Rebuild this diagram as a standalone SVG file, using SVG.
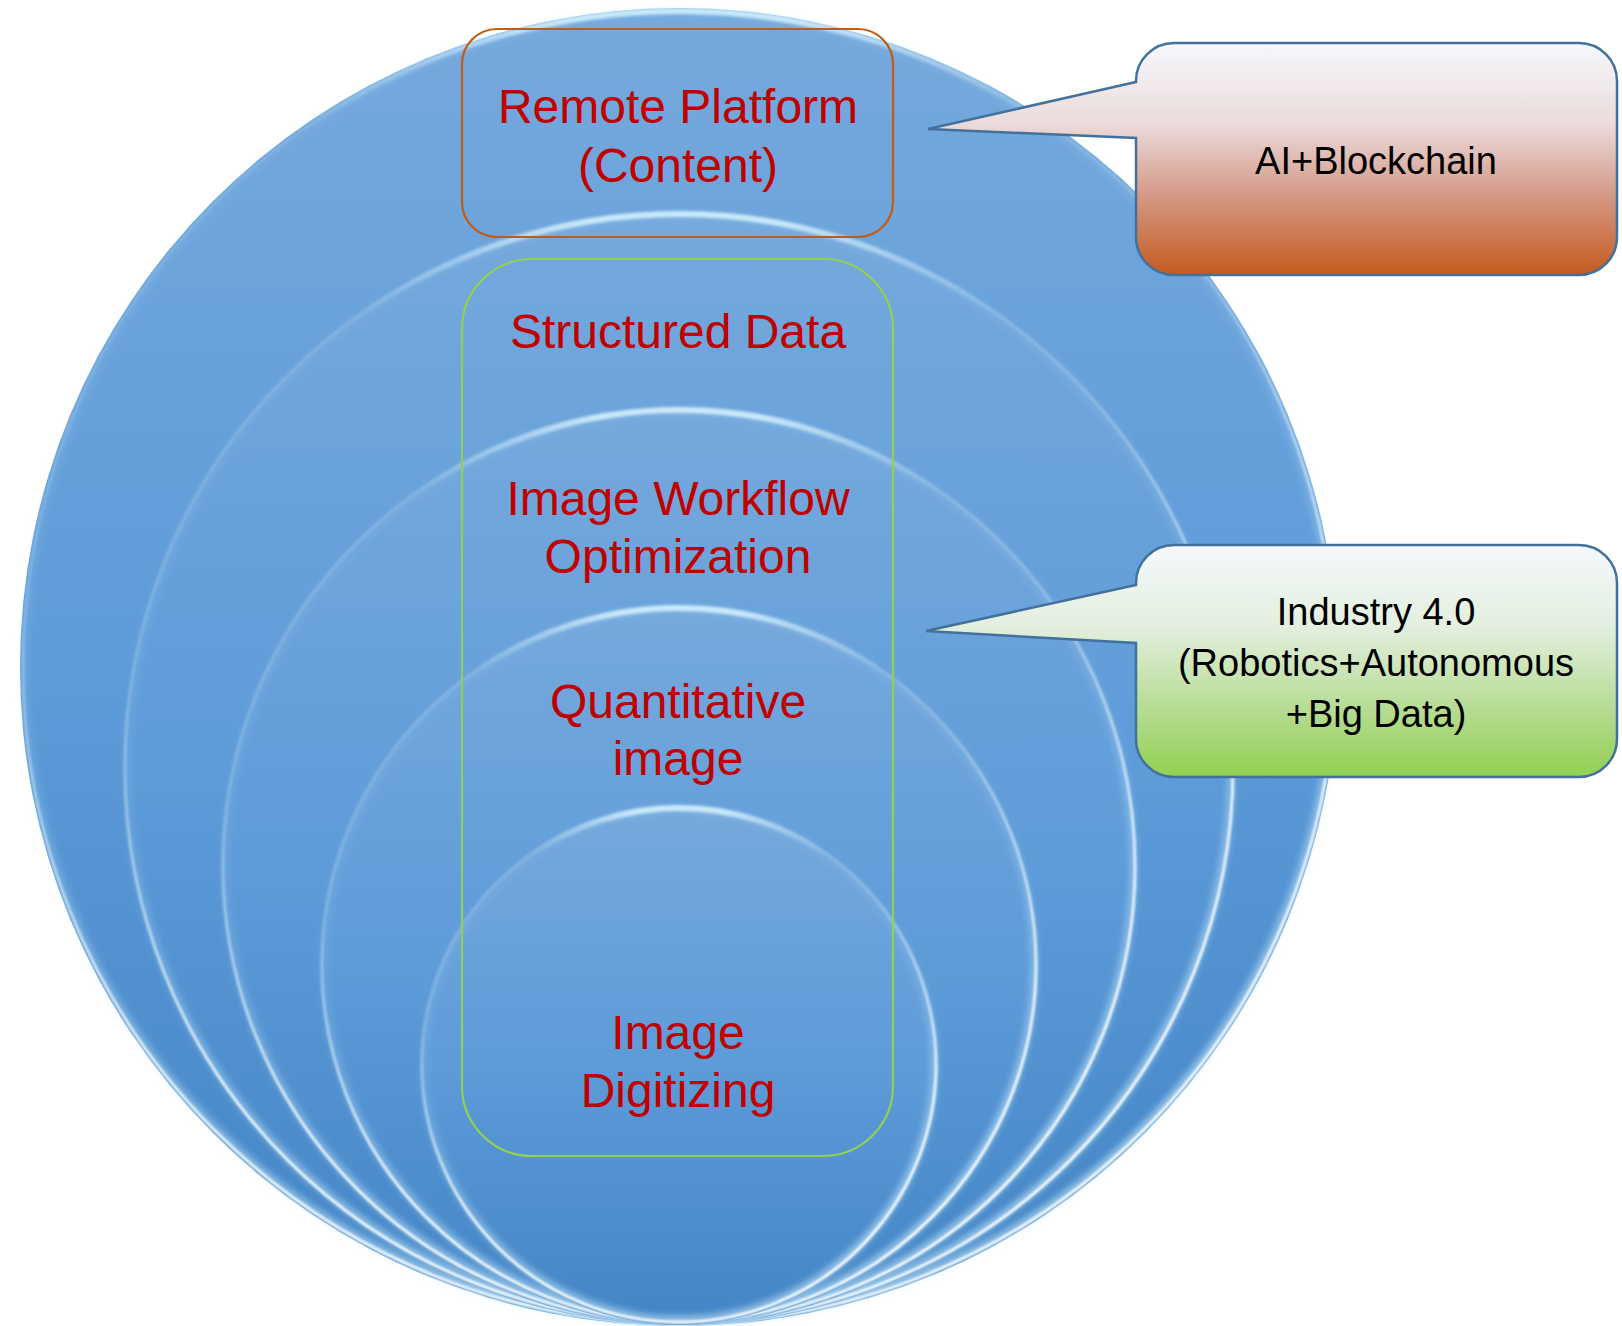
<svg xmlns="http://www.w3.org/2000/svg" width="1622" height="1326" viewBox="0 0 1622 1326">
  <style>
    .lbl { font-family: "Liberation Sans", Arial, sans-serif; font-size: 48px; fill: #c00000; text-anchor: middle; }
    .cl { font-family: "Liberation Sans", Arial, sans-serif; font-size: 38px; fill: #000000; text-anchor: middle; }
    .disc { fill: url(#discFill); }
    .glow { fill: none; stroke: url(#glowGrad); stroke-width: 8; filter: url(#soft); }
    .rim { fill: none; stroke: url(#rimGrad); stroke-width: 2.8; filter: url(#thin); }
    .top { fill: none; stroke: url(#topGrad); stroke-width: 6; filter: url(#mid); }
    .frameO { fill: none; stroke: #c55a11; stroke-width: 2.2; }
    .frameG { fill: none; stroke: #92d050; stroke-width: 2.2; }
    .callout { stroke: #41719c; stroke-width: 2.5; }
  </style>
  <defs>
    <linearGradient id="discFill" x1="0" y1="0" x2="0" y2="1">
      <stop offset="0" stop-color="#76a9dd"/>
      <stop offset="0.5" stop-color="#5d9bd9"/>
      <stop offset="1" stop-color="#4385c5"/>
    </linearGradient>
    <linearGradient id="rimGrad" x1="0" y1="0" x2="0.3" y2="1">
      <stop offset="0" stop-color="#e6f8ff" stop-opacity="0.08"/>
      <stop offset="0.4" stop-color="#e6f8ff" stop-opacity="0.2"/>
      <stop offset="0.6" stop-color="#eefbff" stop-opacity="0.6"/>
      <stop offset="0.75" stop-color="#f6fdff" stop-opacity="0.9"/>
      <stop offset="1" stop-color="#ffffff" stop-opacity="1"/>
    </linearGradient>
    <linearGradient id="glowGrad" x1="0" y1="0" x2="0.3" y2="1">
      <stop offset="0" stop-color="#c8ecff" stop-opacity="0.03"/>
      <stop offset="0.5" stop-color="#c8ecff" stop-opacity="0.12"/>
      <stop offset="1" stop-color="#c8ecff" stop-opacity="0.6"/>
    </linearGradient>
    <linearGradient id="topGrad" x1="0" y1="0" x2="1" y2="0">
      <stop offset="0" stop-color="#d6f4ff" stop-opacity="0"/>
      <stop offset="0.35" stop-color="#d6f4ff" stop-opacity="0.85"/>
      <stop offset="0.65" stop-color="#d6f4ff" stop-opacity="0.85"/>
      <stop offset="1" stop-color="#d6f4ff" stop-opacity="0"/>
    </linearGradient>
    <linearGradient id="orangeFill" x1="0" y1="0" x2="0" y2="1">
      <stop offset="0" stop-color="#f6f8fc"/>
      <stop offset="0.35" stop-color="#ebdbdb"/>
      <stop offset="0.65" stop-color="#d59a88"/>
      <stop offset="1" stop-color="#c55a1e"/>
    </linearGradient>
    <linearGradient id="greenFill" x1="0" y1="0" x2="0" y2="1">
      <stop offset="0" stop-color="#f5f8fc"/>
      <stop offset="0.35" stop-color="#e3efdf"/>
      <stop offset="0.7" stop-color="#b7dc95"/>
      <stop offset="1" stop-color="#92d050"/>
    </linearGradient>
    <filter id="soft" x="-5%" y="-5%" width="110%" height="110%">
      <feGaussianBlur stdDeviation="3"/>
    </filter>
    <filter id="mid" x="-10%" y="-50%" width="120%" height="200%">
      <feGaussianBlur stdDeviation="1.6"/>
    </filter>
    <filter id="thin" x="-5%" y="-5%" width="110%" height="110%">
      <feGaussianBlur stdDeviation="0.8"/>
    </filter>
  </defs>

  <g id="circles">
    <g id="circle-remote">
      <circle class="disc" cx="679" cy="667" r="659"/>
      <circle class="glow" cx="679" cy="667" r="654"/>
      <circle class="rim" cx="679" cy="667" r="656"/>
      <path class="top" d="M 302.7,129.6 A 656 656 0 0 1 1055.3,129.6"/>
    </g>
    <g id="circle-structured">
      <circle class="disc" cx="679" cy="768" r="557"/>
      <circle class="glow" cx="679" cy="768" r="552"/>
      <circle class="rim" cx="679" cy="768" r="554"/>
      <path class="top" d="M 361.2,314.2 A 554 554 0 0 1 996.8,314.2"/>
    </g>
    <g id="circle-workflow">
      <circle class="disc" cx="679" cy="866" r="459"/>
      <circle class="glow" cx="679" cy="866" r="454"/>
      <circle class="rim" cx="679" cy="866" r="456"/>
      <path class="top" d="M 417.4,492.4 A 456 456 0 0 1 940.6,492.4"/>
    </g>
    <g id="circle-quantitative">
      <circle class="disc" cx="679" cy="965" r="360"/>
      <circle class="glow" cx="679" cy="965" r="355"/>
      <circle class="rim" cx="679" cy="965" r="357"/>
      <path class="top" d="M 474.2,672.5 A 357 357 0 0 1 883.8,672.5"/>
    </g>
    <g id="circle-digitizing">
      <circle class="disc" cx="679" cy="1065" r="260"/>
      <circle class="glow" cx="679" cy="1065" r="255"/>
      <circle class="rim" cx="679" cy="1065" r="257"/>
      <path class="top" d="M 531.6,854.5 A 257 257 0 0 1 826.4,854.5"/>
    </g>
  </g>

  <g id="frame-remote">
    <rect class="frameO" x="462" y="29" width="431" height="208" rx="35" ry="35"/>
    <text class="lbl" x="678" y="123">Remote Platform</text>
    <text class="lbl" x="678" y="182">(Content)</text>
  </g>

  <g id="frame-core">
    <rect class="frameG" x="462" y="259" width="431" height="897" rx="70" ry="70"/>
  </g>

  <g id="label-structured">
    <text class="lbl" x="678" y="348">Structured Data</text>
  </g>
  <g id="label-workflow">
    <text class="lbl" x="678" y="515">Image Workflow</text>
    <text class="lbl" x="678" y="573">Optimization</text>
  </g>
  <g id="label-quantitative">
    <text class="lbl" x="678" y="718">Quantitative</text>
    <text class="lbl" x="678" y="775">image</text>
  </g>
  <g id="label-digitizing">
    <text class="lbl" x="678" y="1049">Image</text>
    <text class="lbl" x="678" y="1107">Digitizing</text>
  </g>

  <g id="connectors"></g>

  <g id="callout-ai">
    <path class="callout" fill="url(#orangeFill)" d="M 1174,43 H 1579 A 38 38 0 0 1 1617,81 V 237 A 38 38 0 0 1 1579,275 H 1174 A 38 38 0 0 1 1136,237 V 138 L 928,129 L 1136,82 V 81 A 38 38 0 0 1 1174,43 Z"/>
    <text class="cl" x="1376" y="174">AI+Blockchain</text>
  </g>

  <g id="callout-industry">
    <path class="callout" fill="url(#greenFill)" d="M 1174,545 H 1579 A 38 38 0 0 1 1617,583 V 739 A 38 38 0 0 1 1579,777 H 1174 A 38 38 0 0 1 1136,739 V 643 L 926,631 L 1136,585 V 583 A 38 38 0 0 1 1174,545 Z"/>
    <text class="cl" x="1376" y="625">Industry 4.0</text>
    <text class="cl" x="1376" y="676">(Robotics+Autonomous</text>
    <text class="cl" x="1376" y="727">+Big Data)</text>
  </g>
</svg>
